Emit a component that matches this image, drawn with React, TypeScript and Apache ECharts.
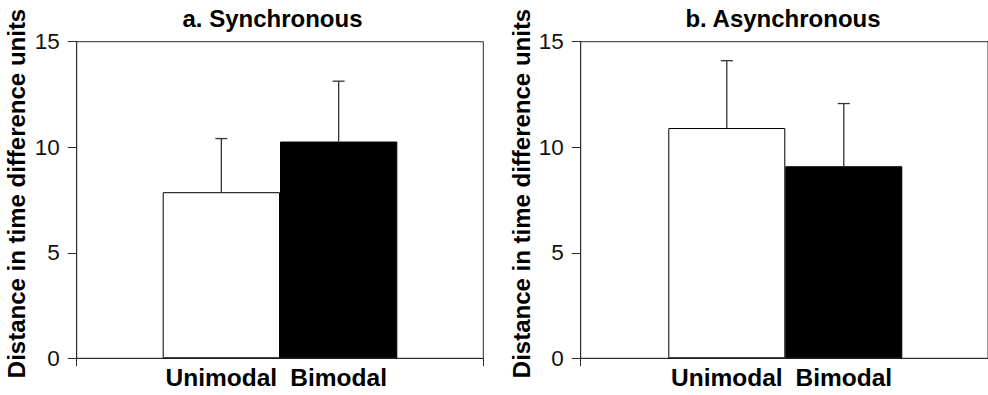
import React, { useEffect, useRef } from "react";
import * as echarts from "echarts";

const categories = ["Unimodal", "Bimodal"];
const panelTitles = ["a. Synchronous", "b. Asynchronous"];
const yAxisTitle = "Distance in time difference units";
const syncMeans = [7.87, 10.27];
const syncErrors = [2.54, 2.86];
const asyncMeans = [10.91, 9.1];
const asyncErrors = [3.19, 2.97];
const yTicks = { min: 0, max: 15, interval: 5 };
const barColors = ["#ffffff", "#000000"];

const FONT = "'Liberation Sans', Arial, Helvetica, sans-serif";
const AXIS_COLOR = "#2a2a2a";

export default function App() {
  const ref = useRef<HTMLDivElement>(null);
  useEffect(() => {
    if (!ref.current) return;
    document.body.style.margin = "0";
    const chart = echarts.init(ref.current, undefined, { renderer: "svg" });

    const top = 41.7;
    const height = 316.6;
    const panels = [
      { frameLeft: 76.7, frameWidth: 406.6, barLeft: 162.7, barWidth: 234.6, means: syncMeans, errs: syncErrors },
      { frameLeft: 580.7, frameWidth: 412, barLeft: 668.3, barWidth: 234.0, means: asyncMeans, errs: asyncErrors },
    ];

    const grid: any[] = [];
    const xAxis: any[] = [];
    const yAxis: any[] = [];
    const series: any[] = [];

    panels.forEach((p, i) => {
      const fi = i * 2;
      const bi = i * 2 + 1;
      grid.push({
        left: p.frameLeft,
        top,
        width: p.frameWidth,
        height,
        show: true,
        borderColor: AXIS_COLOR,
        borderWidth: 1,
        backgroundColor: "transparent",
      });
      grid.push({ left: p.barLeft, top, width: p.barWidth, height, show: false });
      xAxis.push({
        gridIndex: fi,
        type: "category",
        data: [""],
        boundaryGap: true,
        axisLine: { show: true, lineStyle: { color: AXIS_COLOR, width: 1 } },
        axisTick: { show: true, length: 8, lineStyle: { color: AXIS_COLOR } },
        axisLabel: { show: false },
        splitLine: { show: false },
      });
      xAxis.push({
        gridIndex: bi,
        type: "category",
        data: categories,
        axisLine: { show: false },
        axisTick: { show: false },
        axisLabel: {
          show: true,
          interval: 0,
          margin: 7,
          color: "#000",
          fontSize: 24.5,
          fontWeight: "bold",
          fontFamily: FONT,
        },
      });
      yAxis.push({
        gridIndex: fi,
        type: "value",
        min: yTicks.min,
        max: yTicks.max,
        interval: yTicks.interval,
        axisLine: { show: true, lineStyle: { color: AXIS_COLOR, width: 1 } },
        axisTick: { show: true, length: 9, lineStyle: { color: AXIS_COLOR } },
        axisLabel: { color: "#111", fontSize: 22.5, fontFamily: FONT, margin: 17 },
        splitLine: { show: false },
      });
      yAxis.push({
        gridIndex: bi,
        type: "value",
        min: yTicks.min,
        max: yTicks.max,
        interval: yTicks.interval,
        show: false,
        splitLine: { show: false },
      });
      series.push({
        type: "bar",
        xAxisIndex: bi,
        yAxisIndex: bi,
        barWidth: "100%",
        barCategoryGap: "0%",
        data: p.means.map((v, k) => ({
          value: v,
          itemStyle: { color: barColors[k], borderColor: "#000", borderWidth: 1 },
        })),
        z: 2,
      });
      series.push({
        type: "custom",
        xAxisIndex: bi,
        yAxisIndex: bi,
        z: 3,
        data: p.means.map((v, k) => [k, v, v + p.errs[k]]),
        renderItem: (params: any, api: any) => {
          const x = api.value(0);
          const m = api.value(1);
          const t = api.value(2);
          const p0 = api.coord([x, m]);
          const p1 = api.coord([x, t]);
          const style = { stroke: "#333", lineWidth: 1.3 };
          return {
            type: "group",
            children: [
              { type: "line", shape: { x1: p0[0], y1: p0[1], x2: p1[0], y2: p1[1] }, style },
              { type: "line", shape: { x1: p1[0] - 6, y1: p1[1], x2: p1[0] + 6, y2: p1[1] }, style },
            ],
          };
        },
      });
    });

    const titleStyle = { fontSize: 24, fontWeight: "bold", fontFamily: FONT, fill: "#000", align: "center", verticalAlign: "middle" };
    const yTitleStyle = { fontSize: 24, fontWeight: "bold", fontFamily: FONT, fill: "#000", align: "center", verticalAlign: "middle" };
    const graphic: any[] = [
      { type: "text", x: 272.5, y: 18.5, style: { text: panelTitles[0], ...titleStyle } },
      { type: "text", x: 783, y: 18.5, style: { text: panelTitles[1], ...titleStyle } },
      { type: "text", x: 16.7, y: 193.5, rotation: Math.PI / 2, style: { text: yAxisTitle, ...yTitleStyle } },
      { type: "text", x: 521, y: 193.5, rotation: Math.PI / 2, style: { text: yAxisTitle, ...yTitleStyle } },
    ];

    chart.setOption({
      animation: false,
      backgroundColor: "#fff",
      grid,
      xAxis,
      yAxis,
      series,
      graphic,
    });
    return () => chart.dispose();
  }, []);
  return <div ref={ref} style={{ position: "fixed", left: 0, top: 0, width: 988, height: 395 }} />;
}
